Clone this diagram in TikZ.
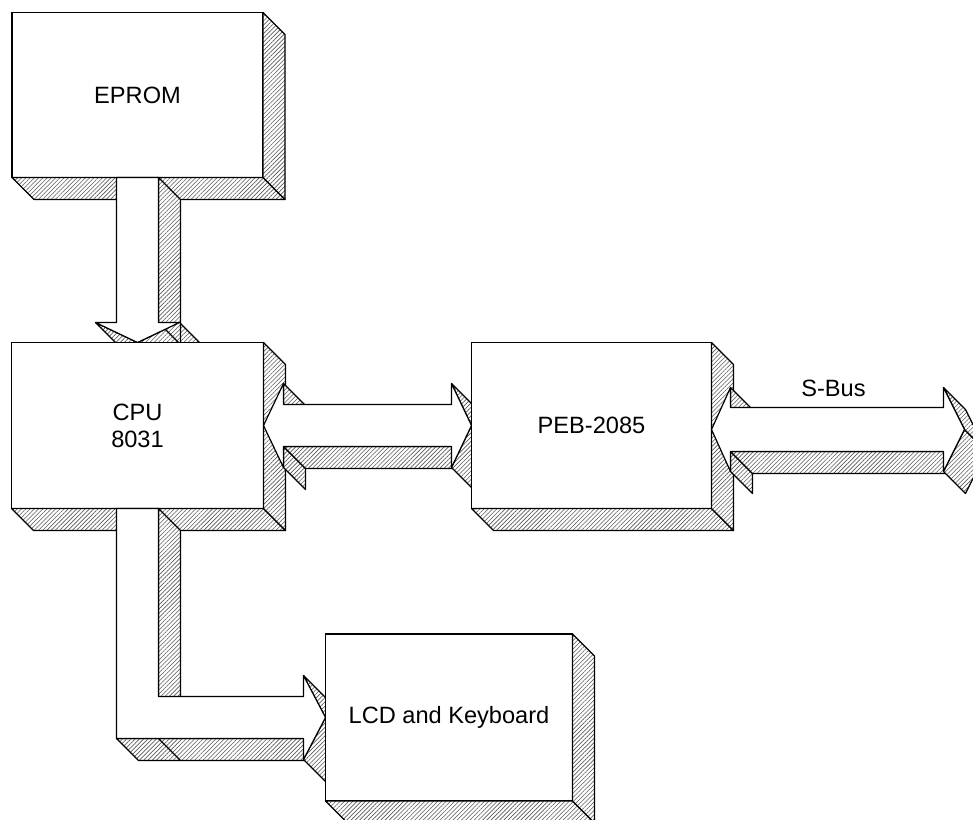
\documentclass[tikz,border=0pt]{standalone}
\usepackage{fontspec}
\setmainfont{Liberation Sans}
\usetikzlibrary{calc,positioning,patterns.meta}
\tikzset{
  box/.style={draw, fill=white, line width=0.6pt, inner sep=0pt, outer sep=0pt,
    align=center, font=\fontsize{11.8}{13.5}\selectfont},
  face/.style={draw, fill=white, line width=0.6pt, line join=round},
  side/.style={draw, line width=0.6pt, line join=round, preaction={fill=white},
    pattern={Lines[angle=45,distance=1.5pt,line width=0.3pt]}, pattern color=black!65},
  edge/.style={line width=0.6pt},
  lbl/.style={font=\fontsize{11.8}{13.5}\selectfont},
}
% hatched depth faces of a polygon (points listed counterclockwise), depth (22,22)
\newcommand{\slabsides}[2]{%
  \foreach \pto [remember=\pto as \pfrom (initially #1)] in {#2,#1}{%
    \path let \p1=(\pfrom), \p2=(\pto) in
      \pgfextra{\pgfmathsetmacro\slabfc{\x2-\x1+\y2-\y1}\global\let\slabfc\slabfc};
    \ifdim\slabfc pt>0.5pt
      \path[side] (\pfrom) -- (\pto) -- ([shift={(22,22)}]\pto)
        -- ([shift={(22,22)}]\pfrom) -- cycle;
    \fi}}
\newcommand{\slab}[2]{%
  \slabsides{#1}{#2}%
  \path[face] (#1) \foreach \pto in {#2}{-- (\pto)} -- cycle;}
\newcommand{\boxslab}[1]{\slabsides{#1.north west}{#1.south west,#1.south east,#1.north east}}

\begin{document}
\begin{tikzpicture}[x=0.5pt, y=-0.5pt]
  \clip (0,0) rectangle (973,819);
  % EPROM
  \node[box, minimum width=125.5pt, minimum height=82.5pt] (eprom) at (137.5,95) {EPROM};
  \boxslab{eprom}
  % EPROM -> CPU
  \foreach \n/\dx/\dy in {1/-21/0, 2/-21/145, 3/-42/145, 4/0/165, 5/42/145, 6/21/145, 7/21/0}
    \coordinate (a1p\n) at ($(eprom.south)+(\dx,\dy)$);
  \slab{a1p1}{a1p2,a1p3,a1p4,a1p5,a1p6,a1p7}
  % CPU
  \node[box, minimum width=126pt, minimum height=83pt, below=0pt of a1p4] (cpu) {CPU\\8031};
  \boxslab{cpu}
  % CPU <-> PEB
  \foreach \n/\dx/\dy in {1/0/0, 2/20/42, 3/20/21, 4/188/21, 5/188/42, 6/208/0,
      7/188/-42, 8/188/-21, 9/20/-21, 10/20/-42}
    \coordinate (a2p\n) at ($(cpu.east)+(\dx,\dy)$);
  \slab{a2p1}{a2p2,a2p3,a2p4,a2p5,a2p6,a2p7,a2p8,a2p9,a2p10}
  % CPU -> LCD
  \foreach \n/\dx/\dy in {1/-21/0, 2/-21/230, 3/166/230, 4/166/251, 5/188/209,
      6/166/167, 7/166/188, 8/21/188, 9/21/0}
    \coordinate (a4p\n) at ($(cpu.south)+(\dx,\dy)$);
  \slab{a4p1}{a4p2,a4p3,a4p4,a4p5,a4p6,a4p7,a4p8,a4p9}
  \coordinate (a4k) at ($(cpu.south)+(21,230)$);
  \draw[edge] (a4k) -- ++(22,22);
  % PEB and LCD
  \node[box, minimum width=120pt, minimum height=83pt, right=0pt of a2p6] (peb) {PEB-2085};
  \boxslab{peb}
  \node[box, minimum width=123.5pt, minimum height=83.5pt, right=0pt of a4p5] (lcd) {LCD and Keyboard};
  \boxslab{lcd}
  % S-Bus
  \coordinate (sb0) at ($(peb.east)+(0,4)$);
  \foreach \n/\dx/\dy in {1/0/0, 2/19/42, 3/19/22, 4/232/22, 5/232/42, 6/253/0,
      7/232/-42, 8/232/-22, 9/19/-22, 10/19/-42}
    \coordinate (a3p\n) at ($(sb0)+(\dx,\dy)$);
  \slab{a3p1}{a3p2,a3p3,a3p4,a3p5,a3p6,a3p7,a3p8,a3p9,a3p10}
  \node[lbl] (sbus) at ($(sb0)+(122,-41)$) {S-Bus};
\end{tikzpicture}
\end{document}
